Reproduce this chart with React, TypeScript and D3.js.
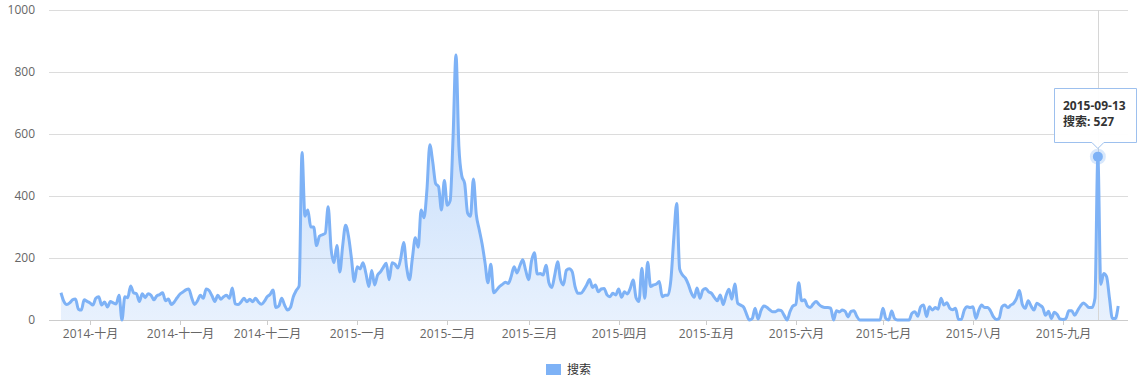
import React from "react";
import * as d3 from "d3";

// Daily values, one array per month (first day: 2014-09-21)
const sep2014 = [88, 60, 50, 55, 65, 68, 35, 32, 65, 60];
const oct2014 = [55, 48, 70, 75, 48, 58, 42, 60, 55, 52, 80, 0, 75, 72, 110, 88, 85, 60, 85, 72, 85, 80, 65, 78, 82, 88, 62, 68, 50, 58, 72];
const nov2014 = [84, 90, 97, 100, 72, 50, 62, 80, 70, 100, 95, 78, 60, 80, 67, 75, 80, 70, 103, 52, 50, 58, 70, 59, 67, 59, 70, 58, 51, 60];
const dec2014 = [75, 82, 97, 40, 45, 70, 48, 32, 40, 75, 95, 110, 540, 335, 355, 300, 300, 240, 270, 275, 280, 365, 230, 185, 240, 155, 240, 306, 270, 200, 124];
const jan2015 = [172, 165, 185, 150, 108, 160, 113, 145, 155, 170, 183, 130, 185, 180, 168, 200, 250, 170, 130, 200, 265, 235, 355, 330, 420, 565, 510, 440, 430, 355, 450];
const feb2015 = [370, 385, 590, 855, 560, 465, 440, 345, 335, 455, 340, 292, 245, 185, 120, 180, 88, 97, 108, 115, 122, 118, 140, 172, 152, 175, 194, 160];
const mar2015 = [130, 190, 217, 148, 150, 145, 177, 120, 105, 145, 188, 130, 113, 160, 165, 156, 108, 86, 86, 97, 113, 131, 105, 113, 91, 100, 102, 81, 75, 86, 81];
const apr2015 = [100, 73, 91, 84, 102, 129, 72, 60, 167, 70, 186, 108, 113, 116, 124, 75, 80, 80, 130, 265, 376, 165, 145, 135, 115, 88, 73, 103, 70, 97];
const may2015 = [102, 91, 86, 72, 62, 81, 50, 80, 99, 67, 116, 54, 48, 42, 20, 0, 5, 38, 3, 30, 45, 41, 33, 27, 27, 32, 30, 15, 0, 27, 45];
const jun2015 = [50, 120, 62, 65, 45, 40, 52, 60, 50, 43, 40, 40, 38, 0, 30, 26, 32, 28, 10, 28, 30, 12, 0, 0, 0, 0, 0, 0, 0, 0];
const jul2015 = [38, 5, 0, 29, 5, 0, 0, 0, 0, 0, 22, 27, 12, 43, 48, 11, 43, 32, 40, 35, 70, 48, 56, 38, 33, 38, 2, 2, 32, 43, 40];
const aug2015 = [43, 5, 32, 48, 40, 40, 30, 11, 2, 5, 43, 48, 40, 48, 54, 70, 95, 50, 38, 62, 45, 32, 54, 48, 40, 15, 28, 5, 25, 18, 3];
const sep2015 = [2, 5, 30, 30, 15, 30, 45, 55, 48, 40, 40, 70, 527, 115, 150, 140, 70, 5, 5, 45];

const monthNames = ["一月", "二月", "三月", "四月", "五月", "六月", "七月", "八月", "九月", "十月", "十一月", "十二月"];
const yTicks = [0, 200, 400, 600, 800, 1000];
const seriesName = "搜索";
const highlightDate = "2015-09-13";

const LINE = "#7eb2f6";
const FONT = '"Open Sans", "Noto Sans CJK SC", sans-serif';

export default function App() {
  const values = [
    ...sep2014, ...oct2014, ...nov2014, ...dec2014, ...jan2015, ...feb2015,
    ...mar2015, ...apr2015, ...may2015, ...jun2015, ...jul2015, ...aug2015, ...sep2015,
  ];
  const start = Date.UTC(2014, 8, 21);
  const data = values.map((v, i) => ({ date: new Date(start + i * 864e5), value: v }));

  const plotLeft = 49;
  const plotRight = 1128;
  const x = d3
    .scaleUtc()
    .domain([data[0].date, data[data.length - 1].date])
    .range([60.96, 1118.2]);
  const y = d3.scaleLinear().domain([0, 1000]).range([320, 10]);

  const line = d3
    .line<{ date: Date; value: number }>()
    .x((d) => x(d.date))
    .y((d) => y(d.value))
    .curve(d3.curveMonotoneX);
  const area = d3
    .area<{ date: Date; value: number }>()
    .x((d) => x(d.date))
    .y0(y(0))
    .y1((d) => y(d.value))
    .curve(d3.curveMonotoneX);

  const monthTicks = d3.utcMonth.range(new Date(Date.UTC(2014, 9, 1)), new Date(Date.UTC(2015, 9, 1)));
  const fmt = d3.utcFormat("%Y-%m-%d");
  const hp = data.find((d) => fmt(d.date) === highlightDate)!;
  const hx = x(hp.date);
  const hy = y(hp.value);

  const boxL = 1054.5, boxR = 1136.5, boxT = 88.5, boxB = 142.5;

  return (
    <svg
      width={1139}
      height={382}
      style={{ position: "absolute", left: 0, top: 0, fontFamily: FONT }}
    >
      <defs>
        <linearGradient id="areaGrad" gradientUnits="userSpaceOnUse" x1="0" y1={y(850)} x2="0" y2={y(0)}>
          <stop offset="0" stopColor={LINE} stopOpacity={0.5} />
          <stop offset="1" stopColor={LINE} stopOpacity={0.18} />
        </linearGradient>
      </defs>
      <rect x={0} y={0} width={1139} height={382} fill="#fff" />
      {yTicks.map((t) => (
        <g key={t}>
          <line x1={plotLeft} x2={plotRight} y1={y(t) + 0.5} y2={y(t) + 0.5} stroke={t === 0 ? "#ccc" : "#dcdcdc"} strokeWidth={1} />
          <text x={35} y={y(t) + 4} textAnchor="end" fontSize={12} fill="#666">
            {t}
          </text>
        </g>
      ))}
      {monthTicks.map((m) => {
        const tx = Math.round(x(m)) + 0.5;
        return (
          <g key={m.toISOString()}>
            <line x1={tx} x2={tx} y1={320} y2={325} stroke="#ccc" />
            <text x={tx} y={338} textAnchor="middle" fontSize={12} fill="#666">
              {`${m.getUTCFullYear()}-${monthNames[m.getUTCMonth()]}`}
            </text>
          </g>
        );
      })}
      <path d={area(data)!} fill="url(#areaGrad)" />
      <line x1={Math.round(hx) + 0.5} x2={Math.round(hx) + 0.5} y1={10} y2={320} stroke="#d6d6d6" />
      <path d={line(data)!} fill="none" stroke={LINE} strokeWidth={3} strokeLinejoin="round" />
      <circle cx={hx} cy={hy} r={8} fill={LINE} fillOpacity={0.3} />
      <circle cx={hx} cy={hy} r={5} fill={LINE} />
      <path
        d={`M${boxL},${boxT} H${boxR} V${boxB} H${hx + 6} L${hx},${boxB + 6} L${hx - 6},${boxB} H${boxL} Z`}
        fill="rgba(255,255,255,0.95)"
        stroke="#9dc0ee"
        strokeWidth={1}
      />
      <text x={1063} y={110} fontSize={12} fontWeight="bold" fill="#333">
        {highlightDate}
      </text>
      <text x={1063} y={126} fontSize={12} fontWeight="bold" fill="#333">
        {`${seriesName}: ${hp.value}`}
      </text>
      <rect x={546} y={364} width={15} height={11} fill={LINE} />
      <text x={567} y={374} fontSize={12} fill="#333">
        {seriesName}
      </text>
    </svg>
  );
}
